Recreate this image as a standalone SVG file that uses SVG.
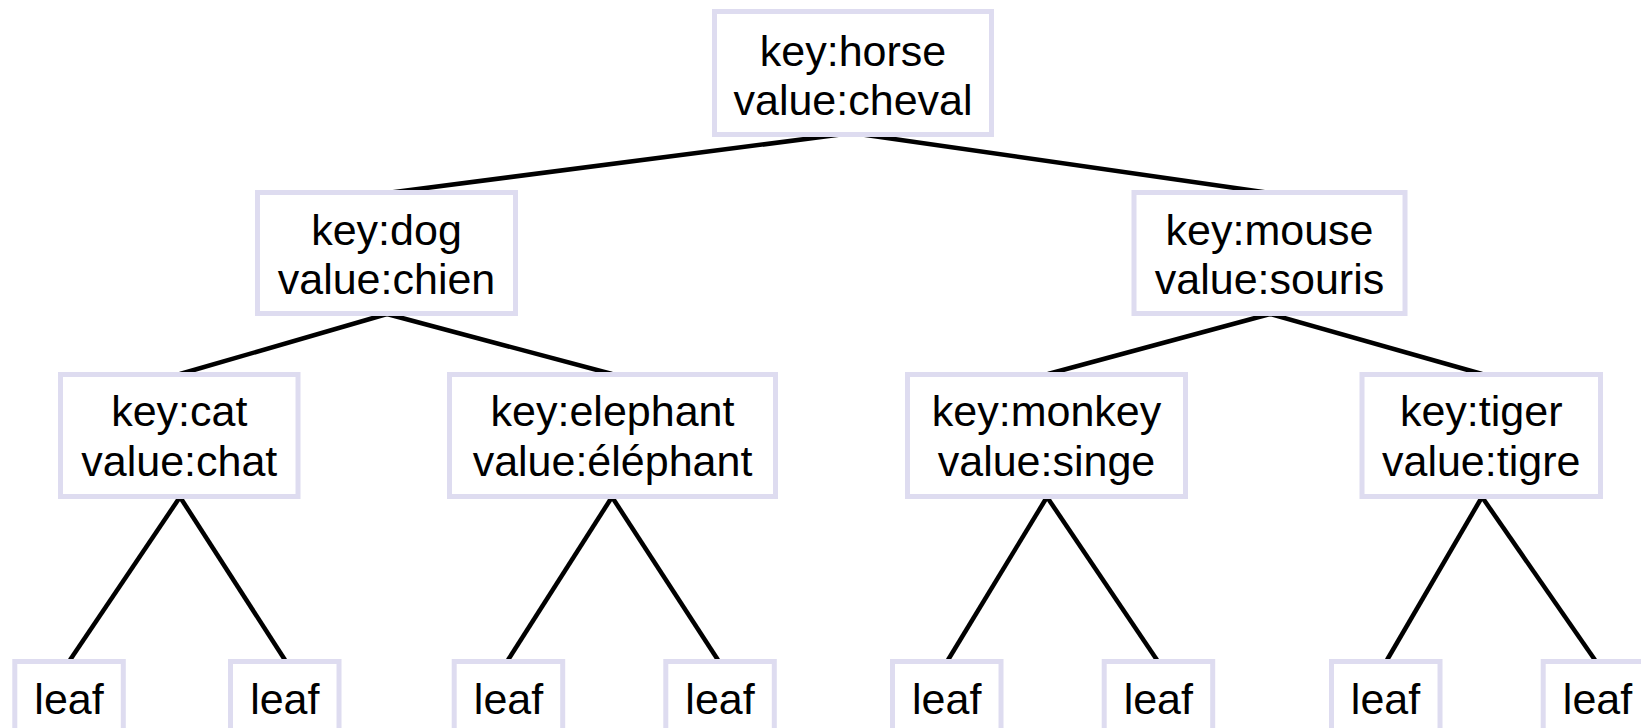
<svg xmlns="http://www.w3.org/2000/svg" width="1641" height="728" viewBox="0 0 1641 728">
<style>
.box{fill:#ffffff;stroke:#dedcf0;stroke-width:5}
.t{font-family:"Liberation Sans",Arial,sans-serif;font-size:43px;fill:#000000;text-anchor:middle}
.edge{stroke:#000000;stroke-width:4.5;fill:none;stroke-linecap:butt}
</style>
<rect width="1641" height="728" fill="#ffffff"/>
<g id="connectors">
<line class="edge" x1="852" y1="133" x2="387" y2="193"/>
<line class="edge" x1="852" y1="133" x2="1270" y2="193"/>
<line class="edge" x1="387" y1="314" x2="180" y2="374"/>
<line class="edge" x1="387" y1="314" x2="612" y2="374"/>
<line class="edge" x1="1270" y1="314" x2="1048" y2="374"/>
<line class="edge" x1="1270" y1="314" x2="1482" y2="374"/>
<line class="edge" x1="180" y1="497" x2="70" y2="660"/>
<line class="edge" x1="180" y1="497" x2="285" y2="660"/>
<line class="edge" x1="612" y1="497" x2="508" y2="660"/>
<line class="edge" x1="612" y1="497" x2="718" y2="660"/>
<line class="edge" x1="1047" y1="497" x2="948" y2="660"/>
<line class="edge" x1="1047" y1="497" x2="1157" y2="660"/>
<line class="edge" x1="1482" y1="497" x2="1387" y2="660"/>
<line class="edge" x1="1482" y1="497" x2="1595" y2="660"/>
</g>
<g id="horse">
<rect class="box" x="714.5" y="11.5" width="277" height="123"/>
<text class="t" x="853" y="66">key:horse</text>
<text class="t" x="853" y="115">value:cheval</text>
</g>
<g id="dog">
<rect class="box" x="257.5" y="192.5" width="258" height="121"/>
<text class="t" x="386.5" y="245">key:dog</text>
<text class="t" x="386.5" y="294">value:chien</text>
</g>
<g id="mouse">
<rect class="box" x="1134" y="192.5" width="271" height="121"/>
<text class="t" x="1269.5" y="245">key:mouse</text>
<text class="t" x="1269.5" y="294">value:souris</text>
</g>
<g id="cat">
<rect class="box" x="60.5" y="374.5" width="237.5" height="122"/>
<text class="t" x="179.3" y="426">key:cat</text>
<text class="t" x="179.3" y="476">value:chat</text>
</g>
<g id="elephant">
<rect class="box" x="449.5" y="374.5" width="326" height="122"/>
<text class="t" x="612.5" y="426">key:elephant</text>
<text class="t" x="612.5" y="476">value:éléphant</text>
</g>
<g id="monkey">
<rect class="box" x="907.5" y="374.5" width="278" height="122"/>
<text class="t" x="1046.5" y="426">key:monkey</text>
<text class="t" x="1046.5" y="476">value:singe</text>
</g>
<g id="tiger">
<rect class="box" x="1362" y="374.5" width="238.5" height="122"/>
<text class="t" x="1481.2" y="426">key:tiger</text>
<text class="t" x="1481.2" y="476">value:tigre</text>
</g>
<g id="leaf1"><rect class="box" x="14.8" y="661.5" width="108.5" height="100"/><text class="t" x="69" y="714">leaf</text></g>
<g id="leaf2"><rect class="box" x="230.5" y="661.5" width="108.5" height="100"/><text class="t" x="284.8" y="714">leaf</text></g>
<g id="leaf3"><rect class="box" x="454.2" y="661.5" width="108.5" height="100"/><text class="t" x="508.5" y="714">leaf</text></g>
<g id="leaf4"><rect class="box" x="665.8" y="661.5" width="108.5" height="100"/><text class="t" x="720" y="714">leaf</text></g>
<g id="leaf5"><rect class="box" x="892.5" y="661.5" width="108.5" height="100"/><text class="t" x="946.7" y="714">leaf</text></g>
<g id="leaf6"><rect class="box" x="1104.2" y="661.5" width="108.5" height="100"/><text class="t" x="1158.3" y="714">leaf</text></g>
<g id="leaf7"><rect class="box" x="1331.5" y="661.5" width="108.5" height="100"/><text class="t" x="1385.5" y="714">leaf</text></g>
<g id="leaf8"><rect class="box" x="1543.2" y="661.5" width="108.5" height="100"/><text class="t" x="1597.5" y="714">leaf</text></g>
</svg>
